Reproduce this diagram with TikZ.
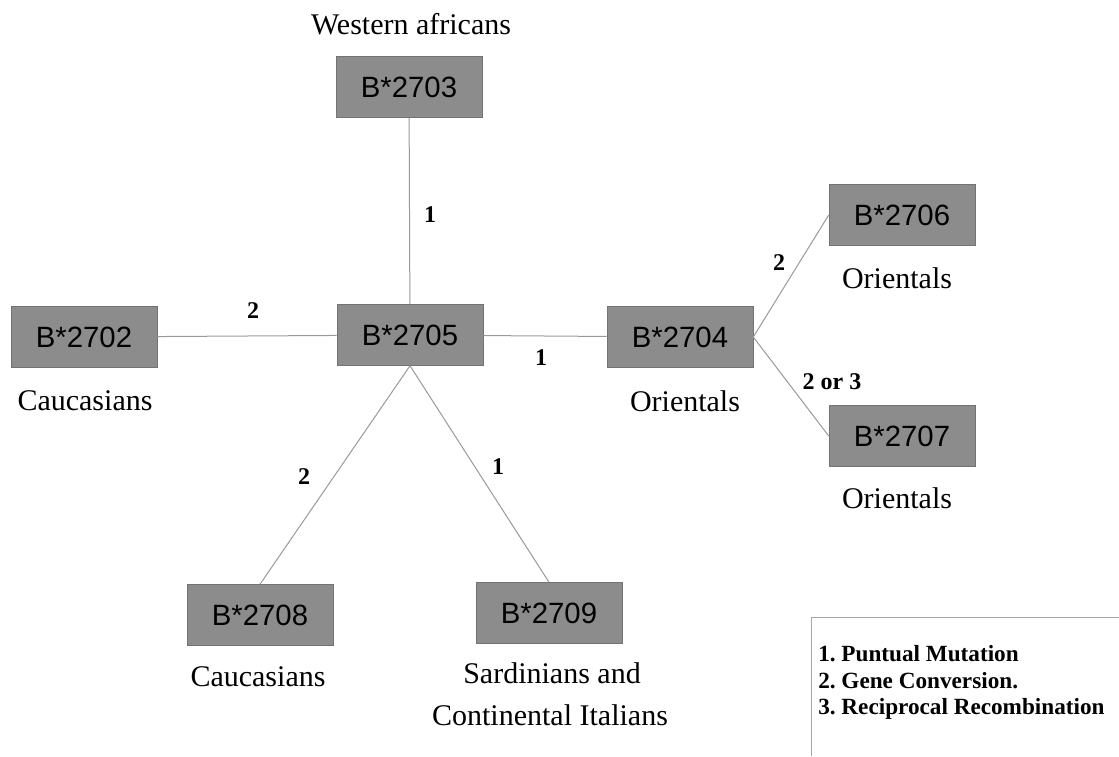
\documentclass[tikz,border=0pt]{standalone}
\usepackage{fontspec}
\setmainfont{Liberation Serif}
\newfontfamily\allelefont{Liberation Sans}
\frenchspacing
\begin{document}
\begin{tikzpicture}[x=0.75pt,y=-0.75pt]
        \tikzstyle{allele}=[fill=black!45,draw=black!55,minimum width=109.5pt,minimum height=45.75pt,inner sep=0pt,font=\allelefont\fontsize{22}{26}\selectfont]
        \tikzstyle{ethnic}=[anchor=base,inner sep=0pt,font=\fontsize{22.5}{27}\selectfont]
        \tikzstyle{event}=[inner sep=0pt,font=\bfseries\fontsize{18}{21}\selectfont]
        \tikzstyle{link}=[draw=black!40,line width=0.75pt]
        \tikzstyle{legend}=[anchor=base west,inner sep=0pt,font=\bfseries\fontsize{17.4}{20}\selectfont]
        \useasboundingbox (0,0) rectangle (1119,756);
        % alleles
        \node[allele] (b2703) at (409,87) {B*2703};
        \node[allele] (b2705) at (410,335) {B*2705};
        \node[allele] (b2702) at (84,337) {B*2702};
        \node[allele] (b2704) at (680,337) {B*2704};
        \node[allele] (b2706) at (902,215) {B*2706};
        \node[allele] (b2707) at (902,436) {B*2707};
        \node[allele] (b2708) at (260,615) {B*2708};
        \node[allele] (b2709) at (549,613) {B*2709};
        % populations
        \node[ethnic] (west) at (411,35) {Western africans};
        \node[ethnic] (cauc1) at (85,410) {Caucasians};
        \node[ethnic] (orie1) at (685,411) {Orientals};
        \node[ethnic] (orie2) at (897,288) {Orientals};
        \node[ethnic] (orie3) at (897,508) {Orientals};
        \node[ethnic] (cauc2) at (258,686) {Caucasians};
        \node[ethnic] (sard) at (552,683) {Sardinians and};
        \node[ethnic] (ital) at (550,725) {Continental Italians};
        % links
        \draw[link] (b2703) -- (b2705);
        \draw[link] (b2702) -- (b2705);
        \draw[link] (b2705) -- (b2704);
        \draw[link] (b2704.east) -- (b2706.west);
        \draw[link] (b2704.east) -- (b2707.west);
        \draw[link] (b2705.south) -- (b2708.north);
        \draw[link] (b2705.south) -- (b2709.north);
        % mechanisms
        \node[event] (e1) at (430,215) {1};
        \node[event] (e2) at (253,311) {2};
        \node[event] (e3) at (541,358) {1};
        \node[event] (e4) at (779,263) {2};
        \node[event] (e5) at (832,382) {2 or 3};
        \node[event] (e6) at (304,477) {2};
        \node[event] (e7) at (498,467) {1};
        % legend
        \draw[draw=black!35,line width=0.75pt] (1119,617) -- (811,617) -- (811,756);
        \node[legend] (leg1) at (818,661) {1. Puntual Mutation};
        \node[legend] (leg2) at (818,688) {2. Gene Conversion.};
        \node[legend] (leg3) at (818,714) {3. Reciprocal Recombination};
\end{tikzpicture}
\end{document}
